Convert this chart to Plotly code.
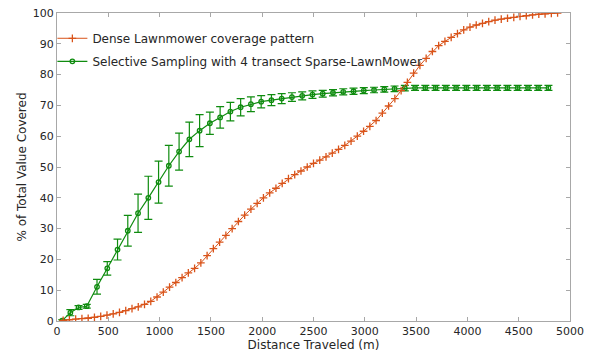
import plotly.graph_objects as go

# Dense lawnmower coverage (red, '+')
dense_x = [60, 121, 182, 243, 304, 365, 426, 487, 548, 609, 670, 731, 792, 853, 914, 975,
           1036, 1097, 1158, 1219, 1280, 1341, 1402, 1463, 1524, 1585, 1646, 1707, 1768, 1829,
           1890, 1951, 2012, 2073, 2134, 2195, 2256, 2317, 2378, 2439, 2500, 2561, 2622, 2683,
           2744, 2805, 2866, 2927, 2988, 3049, 3110, 3171, 3232, 3293, 3354, 3415, 3476, 3537,
           3598, 3659, 3720, 3781, 3842, 3903, 3964, 4025, 4086, 4147, 4208, 4269, 4330, 4391,
           4452, 4513, 4574, 4635, 4696, 4757, 4818, 4879]
dense_y = [0.2, 0.4, 0.6, 0.75, 0.9, 1.2, 1.5, 1.9, 2.3, 2.8, 3.4, 4.0, 4.6, 5.4, 6.4, 7.8,
           9.4, 11.0, 12.5, 14.1, 15.6, 17.1, 18.9, 21.2, 23.5, 25.6, 27.8, 30.0, 32.3, 34.4,
           36.3, 38.2, 40.0, 41.6, 43.1, 44.7, 46.2, 47.5, 48.7, 50.0, 51.2, 52.2, 53.3, 54.5,
           55.7, 57.0, 58.4, 60.0, 61.6, 63.2, 65.1, 67.5, 69.8, 72.2, 74.8, 77.5, 80.5, 83.0,
           85.3, 87.5, 89.4, 90.8, 92.1, 93.3, 94.5, 95.4, 96.1, 96.6, 97.2, 97.7, 98.0, 98.3,
           98.6, 98.9, 99.1, 99.4, 99.6, 99.7, 99.9, 100.0]

# Selective sampling (green, 'o' with error bars)
sel_x = [50, 130, 210, 290, 390, 490, 590, 690, 790, 890, 990, 1090, 1190, 1290, 1390, 1490,
         1590, 1690, 1790, 1890, 1990, 2090, 2190, 2290, 2390, 2490, 2590, 2690, 2790, 2890,
         2990, 3090, 3190, 3290, 3390, 3490, 3590, 3690, 3790, 3890, 3990, 4090, 4190, 4290,
         4390, 4490, 4590, 4690, 4790]
sel_y = [0.1, 2.7, 4.4, 4.8, 11.1, 17.1, 23.2, 29.3, 35.0, 40.0, 45.1, 50.4, 55.0, 59.0, 61.8,
         64.2, 66.1, 68.0, 69.4, 70.4, 71.2, 71.7, 72.2, 72.7, 73.1, 73.5, 73.8, 74.1, 74.4,
         74.6, 74.8, 75.0, 75.2, 75.4, 75.6, 75.7, 75.7, 75.7, 75.7, 75.7, 75.7, 75.7, 75.7,
         75.7, 75.7, 75.7, 75.7, 75.7, 75.7]
sel_err = [0.3, 1.0, 0.6, 0.6, 2.4, 2.2, 3.4, 5.0, 6.2, 7.0, 6.8, 6.6, 6.0, 5.6, 5.2, 3.6,
           3.5, 3.0, 2.8, 2.4, 2.0, 1.8, 1.6, 1.4, 1.3, 1.2, 1.1, 1.0, 1.0, 1.0, 1.0, 0.9,
           0.9, 0.9, 0.9, 0.8, 0.8, 0.8, 0.8, 0.8, 0.8, 0.8, 0.8, 0.8, 0.8, 0.8, 0.8, 0.8, 0.8]

x_ticks = [0, 500, 1000, 1500, 2000, 2500, 3000, 3500, 4000, 4500, 5000]
y_ticks = [0, 10, 20, 30, 40, 50, 60, 70, 80, 90, 100]

RED = "#D95319"
GREEN = "#0F8C0F"
TXT = "#262626"
AX = "#a8a8a8"
FONT = "DejaVu Sans"

fig = go.Figure()
fig.add_trace(go.Scatter(
    x=sel_x, y=sel_y, mode="lines+markers",
    name="Selective Sampling with 4 transect Sparse-LawnMower",
    line=dict(color=GREEN, width=1.2),
    marker=dict(symbol="circle-open", size=4.5, color=GREEN, line=dict(width=1.3, color=GREEN)),
    error_y=dict(type="data", array=sel_err, color=GREEN, thickness=1.2, width=4),
    legendgroup="b", legendrank=2,
))
fig.add_trace(go.Scatter(
    x=dense_x, y=dense_y, mode="lines+markers",
    name="Dense Lawnmower coverage pattern",
    line=dict(color=RED, width=1.0),
    marker=dict(symbol="cross-thin", size=5.5, color=RED, line=dict(width=1.3, color=RED)),
    legendgroup="a", legendrank=1,
))

axis_common = dict(
    showline=True, linecolor=AX, linewidth=1, mirror="ticks",
    ticks="inside", ticklen=4, tickcolor=AX, tickwidth=1,
    showgrid=False, zeroline=False, automargin=False,
    tickfont=dict(family=FONT, size=11, color=TXT),
)

fig.update_layout(
    width=600, height=355,
    margin=dict(l=57, r=30, t=13, b=34),
    paper_bgcolor="white", plot_bgcolor="white",
    font=dict(family=FONT, color=TXT),
    xaxis=dict(range=[0, 5000], tickvals=x_ticks,
               title=dict(text="Distance Traveled (m)", font=dict(family=FONT, size=12, color=TXT), standoff=3),
               **axis_common),
    yaxis=dict(range=[0, 100], tickvals=y_ticks,
               title=dict(text="% of Total Value Covered", font=dict(family=FONT, size=12, color=TXT), standoff=3),
               **axis_common),
    legend=dict(x=-0.009, y=0.965, xanchor="left", yanchor="top",
                bgcolor="rgba(255,255,255,0)", borderwidth=0,
                font=dict(family=FONT, size=12, color=TXT),
                traceorder="grouped", tracegroupgap=4, itemwidth=30),
    showlegend=True,
)

fig.write_html("out.html", config={"displayModeBar": False},
               post_script="document.body.style.margin='0px';document.body.style.overflow='hidden';")
